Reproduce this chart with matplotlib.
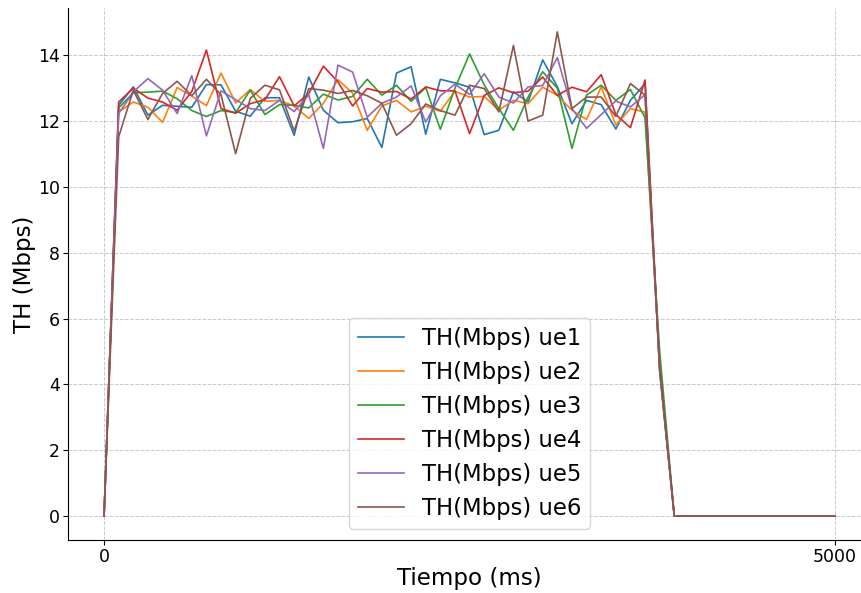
import numpy as np
import matplotlib
matplotlib.use("Agg")
import matplotlib.pyplot as plt

# Throughput per UE, sampled every 100 ms from 0 to 5000 ms
tiempo_ms = list(range(0, 5001, 100))

ue1 = [0.0, 12.48, 13.04, 12.18, 12.48, 12.45, 12.42, 13.11, 13.10, 12.30, 12.15,
       12.71, 12.71, 11.57, 13.34, 12.33, 11.95, 11.98, 12.08, 11.20, 13.46,
       13.65, 11.60, 13.27, 13.16, 13.03, 11.59, 11.72, 12.89, 12.58, 13.86,
       13.05, 11.92, 12.63, 12.50, 11.76, 12.63, 13.14, 4.4,
       0, 0, 0, 0, 0, 0, 0, 0, 0, 0, 0, 0]
ue2 = [0.0, 12.28, 12.58, 12.42, 11.96, 13.02, 12.76, 12.47, 13.46, 12.55, 12.96,
       12.60, 12.63, 12.46, 12.08, 12.54, 13.26, 12.85, 11.72, 12.46, 12.63,
       12.28, 12.45, 12.30, 12.91, 12.73, 12.75, 12.33, 12.63, 12.53, 13.03,
       12.78, 12.33, 12.05, 13.04, 11.88, 12.38, 12.27, 4.6,
       0, 0, 0, 0, 0, 0, 0, 0, 0, 0, 0, 0]
ue3 = [0.0, 12.40, 12.86, 12.88, 12.91, 12.68, 12.32, 12.14, 12.32, 12.26, 12.94,
       12.20, 12.50, 12.48, 12.40, 12.82, 12.64, 12.75, 13.27, 12.79, 13.09,
       12.60, 13.02, 11.75, 13.00, 14.04, 13.10, 12.38, 11.72, 12.73, 13.50,
       13.00, 11.17, 12.79, 13.09, 12.63, 12.96, 12.10, 5.0,
       0, 0, 0, 0, 0, 0, 0, 0, 0, 0, 0, 0]
ue4 = [0.0, 12.58, 13.00, 12.70, 12.58, 12.33, 12.90, 14.16, 12.38, 12.24, 12.53,
       12.65, 13.35, 12.46, 12.84, 13.67, 13.19, 12.46, 12.99, 12.88, 12.90,
       12.67, 13.04, 12.92, 12.92, 11.62, 12.78, 13.01, 12.86, 12.91, 13.34,
       12.78, 13.03, 12.89, 13.41, 12.20, 11.80, 13.25, 4.5,
       0, 0, 0, 0, 0, 0, 0, 0, 0, 0, 0, 0]
ue5 = [0.0, 12.23, 12.89, 13.29, 12.94, 12.23, 13.38, 11.55, 12.92, 12.65, 12.38,
       12.32, 12.63, 12.29, 12.80, 11.17, 13.70, 13.49, 12.12, 12.54, 12.73,
       13.07, 11.97, 12.77, 13.12, 12.81, 13.44, 12.73, 12.55, 13.04, 13.08,
       13.93, 12.38, 11.78, 12.20, 12.61, 12.43, 12.80, 4.4,
       0, 0, 0, 0, 0, 0, 0, 0, 0, 0, 0, 0]
ue6 = [0.0, 11.52, 12.94, 12.05, 12.84, 13.21, 12.77, 13.27, 12.80, 11.01, 12.69,
       13.09, 12.95, 11.70, 12.99, 12.94, 12.84, 12.93, 12.77, 12.54, 11.57,
       11.92, 12.52, 12.32, 12.18, 13.09, 12.99, 12.28, 14.30, 12.00, 12.18,
       14.71, 12.38, 12.73, 12.73, 12.14, 13.14, 12.79, 4.5,
       0, 0, 0, 0, 0, 0, 0, 0, 0, 0, 0, 0]

series = {
    "TH(Mbps) ue1": ue1,
    "TH(Mbps) ue2": ue2,
    "TH(Mbps) ue3": ue3,
    "TH(Mbps) ue4": ue4,
    "TH(Mbps) ue5": ue5,
    "TH(Mbps) ue6": ue6,
}

fig = plt.figure(figsize=(8.61, 5.93), dpi=100)
# the plotting area runs slightly past the right edge of the canvas
ax = fig.add_axes([0.0784, 0.089, 0.934, 0.898])

for label, values in series.items():
    ax.plot(tiempo_ms, values, linewidth=1.2, label=label)

ax.set_xticks([0, 5000])
ax.tick_params(axis="both", labelsize=12.5, pad=2)
ax.set_xlabel("Tiempo (ms)", fontsize=16.6, labelpad=1)
ax.set_ylabel("TH (Mbps)", fontsize=16.6, labelpad=1)
ax.grid(True, linestyle="--", color="#bbbbbb", linewidth=0.7, alpha=0.8)
ax.spines["top"].set_visible(False)
ax.spines["right"].set_visible(False)

ax.legend(fontsize=16.4, loc="lower center", labelspacing=0.48)

fig.savefig("out.png", dpi=100)
